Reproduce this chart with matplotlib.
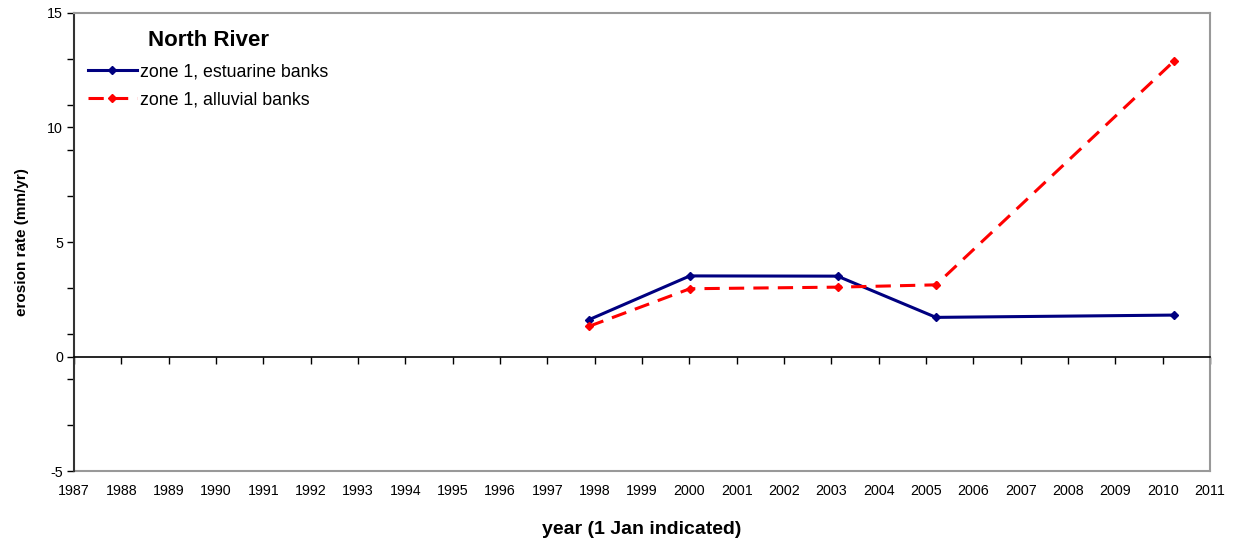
import numpy as np
import matplotlib
matplotlib.use('Agg')
import matplotlib.pyplot as plt
from matplotlib.ticker import MultipleLocator, FixedLocator

plt.rcParams['font.family'] = ['Liberation Sans', 'DejaVu Sans']
plt.rcParams['axes.unicode_minus'] = False

# survey dates (decimal years) and bank erosion rates (mm/yr)
survey_years = [1997.88, 2000.01, 2003.13, 2005.21, 2010.23]
estuarine_rate = [1.61, 3.52, 3.51, 1.71, 1.81]
alluvial_rate = [1.32, 2.96, 3.03, 3.13, 12.88]

year_ticks = list(range(1987, 2012))

fig = plt.figure(figsize=(12.36, 5.39), dpi=100)
ax = fig.add_axes([0.0599, 0.126, 0.9191, 0.850])

ax.plot(survey_years, estuarine_rate, color='#000080', lw=2.2,
        marker='D', ms=4, label='zone 1, estuarine banks', zorder=3)
ax.plot(survey_years, alluvial_rate, color='#ff0000', lw=2.2,
        ls=(0, (5, 3)), marker='D', ms=4, label='zone 1, alluvial banks',
        zorder=3)

ax.set_xlim(1987, 2011)
ax.set_ylim(-5, 15)

# category axis crosses at zero, labels kept along the bottom
ax.spines['bottom'].set_position(('data', 0))
ax.spines['bottom'].set_color('black')
ax.spines['bottom'].set_linewidth(1.2)
ax.xaxis.set_major_locator(FixedLocator(year_ticks))
ax.tick_params(axis='x', direction='out', length=5, width=1,
               labelbottom=False)

low = ax.secondary_xaxis('bottom')
low.xaxis.set_major_locator(FixedLocator(year_ticks))
low.set_xticklabels([str(y) for y in year_ticks])
low.tick_params(axis='x', length=0, pad=9, labelsize=10.3)
low.spines['bottom'].set_color('#999999')
low.spines['bottom'].set_linewidth(1.5)
low.set_xlabel('year (1 Jan indicated)', fontsize=14, fontweight='bold',
               labelpad=17)

for side in ('top', 'right'):
    ax.spines[side].set_color('#999999')
    ax.spines[side].set_linewidth(1.5)
ax.spines['left'].set_color('#333333')
ax.spines['left'].set_linewidth(1.5)

ax.yaxis.set_major_locator(MultipleLocator(5))
ax.yaxis.set_minor_locator(FixedLocator(np.arange(-5, 16, 2)))
ax.tick_params(axis='y', which='both', direction='out', length=5, width=1,
               labelsize=10.3, pad=3)
ax.set_ylabel('erosion rate (mm/yr)', fontsize=11, fontweight='bold',
              labelpad=13)

leg = ax.legend(loc='upper left', bbox_to_anchor=(-0.002, 0.998),
                frameon=False, fontsize=12.8, title='North River',
                title_fontproperties={'weight': 'bold', 'size': 16},
                handlelength=2.75, handletextpad=0.2, labelspacing=0.6,
                borderpad=0.4)
leg._legend_box.sep = 9

fig.savefig('out.png', dpi=100)
